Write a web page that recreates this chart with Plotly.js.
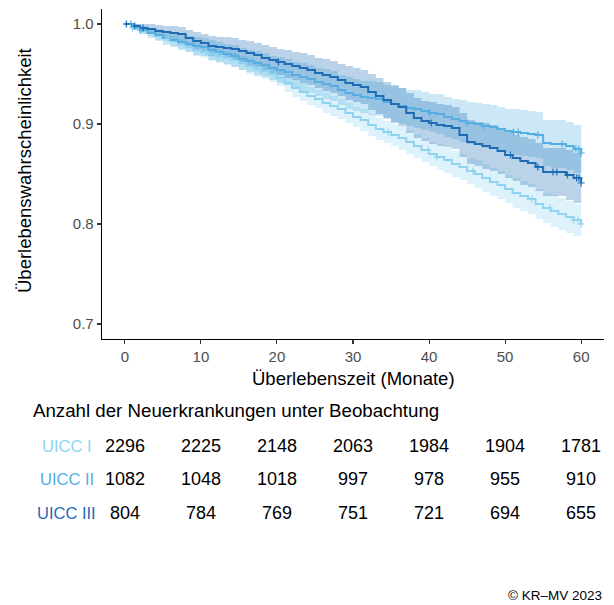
<!DOCTYPE html>
<html><head><meta charset="utf-8">
<script src="https://cdn.plot.ly/plotly-3.0.1.min.js"></script>
<style>html,body{margin:0;padding:0;background:#fff}#chart{width:614px;height:605px}</style>
</head><body><div id="chart"></div>
<script>
// ---- data ----
const groupNames = ['UICC I', 'UICC II', 'UICC III'];

// months 0..60 (one value per month)
const months = [0,1,2,3,4,5,6,7,8,9,10,11,12,13,14,15,16,17,18,19,20,21,22,23,24,25,26,27,28,29,30,31,32,33,34,35,36,37,38,39,40,41,42,43,44,45,46,47,48,49,50,51,52,53,54,55,56,57,58,59,60];

const survI  = [1.000,0.996,0.993,0.991,0.988,0.986,0.983,0.980,0.977,0.974,0.972,0.970,0.968,0.966,0.964,0.961,0.958,0.955,0.953,0.950,0.946,0.941,0.936,0.932,0.928,0.925,0.921,0.918,0.915,0.911,0.907,0.904,0.899,0.895,0.892,0.889,0.886,0.882,0.878,0.874,0.870,0.867,0.864,0.860,0.857,0.853,0.850,0.846,0.842,0.839,0.835,0.831,0.828,0.825,0.820,0.816,0.813,0.810,0.807,0.804,0.800];
const upperI = [1.000,0.998,0.996,0.994,0.992,0.990,0.988,0.985,0.982,0.980,0.978,0.977,0.975,0.973,0.971,0.968,0.966,0.963,0.961,0.958,0.954,0.950,0.945,0.941,0.937,0.934,0.931,0.928,0.925,0.921,0.917,0.915,0.910,0.906,0.903,0.900,0.898,0.894,0.890,0.886,0.882,0.880,0.877,0.873,0.870,0.866,0.864,0.860,0.856,0.853,0.849,0.846,0.843,0.840,0.835,0.831,0.829,0.826,0.823,0.820,0.816];
const lowerI = [1.000,0.994,0.990,0.988,0.984,0.982,0.978,0.975,0.972,0.968,0.966,0.963,0.961,0.959,0.957,0.954,0.950,0.947,0.945,0.942,0.938,0.932,0.927,0.923,0.919,0.916,0.911,0.908,0.905,0.901,0.897,0.893,0.888,0.884,0.881,0.878,0.874,0.870,0.866,0.862,0.858,0.854,0.851,0.847,0.844,0.840,0.836,0.832,0.828,0.825,0.821,0.816,0.813,0.810,0.805,0.801,0.797,0.794,0.791,0.788,0.784];
const censorI = [1.0, 5.7, 10.7, 12.2, 18.0, 34.6, 39.9, 41.0, 45.8, 53.5, 55.9, 59.0, 59.6, 60];

const survII  = [1.000,0.997,0.994,0.991,0.989,0.986,0.984,0.982,0.980,0.978,0.977,0.974,0.972,0.970,0.968,0.965,0.963,0.961,0.959,0.956,0.954,0.952,0.949,0.947,0.945,0.942,0.940,0.938,0.934,0.931,0.929,0.927,0.926,0.925,0.922,0.920,0.918,0.916,0.915,0.913,0.911,0.910,0.907,0.905,0.903,0.901,0.900,0.898,0.897,0.895,0.893,0.892,0.891,0.890,0.889,0.881,0.880,0.880,0.878,0.875,0.871];
const upperII = [1.000,1.000,0.998,0.996,0.995,0.993,0.991,0.990,0.988,0.987,0.986,0.984,0.982,0.980,0.979,0.976,0.974,0.973,0.971,0.968,0.967,0.965,0.962,0.961,0.959,0.956,0.955,0.953,0.949,0.947,0.945,0.943,0.943,0.942,0.939,0.938,0.936,0.934,0.934,0.932,0.930,0.930,0.927,0.925,0.924,0.922,0.921,0.920,0.919,0.917,0.915,0.915,0.914,0.913,0.912,0.904,0.904,0.904,0.902,0.899,0.895];
const lowerII = [1.000,0.994,0.990,0.986,0.983,0.979,0.977,0.974,0.972,0.969,0.968,0.964,0.962,0.960,0.957,0.954,0.952,0.949,0.947,0.944,0.941,0.939,0.936,0.933,0.931,0.928,0.925,0.923,0.919,0.915,0.913,0.911,0.909,0.908,0.905,0.902,0.900,0.898,0.896,0.894,0.892,0.890,0.887,0.885,0.882,0.880,0.879,0.876,0.875,0.873,0.871,0.869,0.868,0.867,0.866,0.858,0.856,0.856,0.854,0.851,0.847];
const censorII = [0.8, 2.0, 14.5, 40.1, 45.0, 47.1, 51.1, 51.7, 54.3, 57.5, 59.3, 59.7, 60];

const survIII  = [1.000,0.998,0.996,0.995,0.993,0.992,0.991,0.990,0.986,0.983,0.981,0.978,0.977,0.976,0.975,0.973,0.971,0.969,0.966,0.964,0.962,0.960,0.958,0.956,0.954,0.951,0.949,0.947,0.944,0.941,0.939,0.937,0.932,0.928,0.924,0.920,0.917,0.911,0.906,0.903,0.901,0.899,0.898,0.896,0.889,0.882,0.880,0.878,0.876,0.873,0.869,0.866,0.863,0.861,0.857,0.852,0.852,0.852,0.849,0.846,0.841];
const upperIII = [1.000,1.000,1.000,1.000,0.999,0.998,0.998,0.997,0.994,0.992,0.990,0.988,0.987,0.987,0.986,0.984,0.983,0.981,0.979,0.977,0.975,0.974,0.972,0.971,0.969,0.966,0.965,0.963,0.960,0.958,0.956,0.954,0.950,0.946,0.942,0.939,0.936,0.931,0.926,0.923,0.922,0.920,0.919,0.917,0.911,0.904,0.902,0.901,0.899,0.896,0.892,0.889,0.887,0.885,0.881,0.876,0.876,0.876,0.874,0.871,0.866];
const lowerIII = [1.000,0.995,0.992,0.990,0.987,0.986,0.984,0.983,0.978,0.974,0.972,0.968,0.967,0.965,0.964,0.962,0.959,0.957,0.953,0.951,0.949,0.946,0.944,0.941,0.939,0.936,0.933,0.931,0.928,0.924,0.922,0.920,0.914,0.910,0.906,0.901,0.898,0.891,0.886,0.883,0.880,0.878,0.877,0.875,0.867,0.860,0.858,0.855,0.853,0.850,0.846,0.843,0.839,0.837,0.833,0.828,0.828,0.828,0.824,0.821,0.816];
const censorIII = [0.2, 1.3, 2.4, 20.2, 40.3, 50.7, 54.3, 56.3, 56.8, 58.2, 59.4, 59.7, 60];

const riskTimes = [0, 10, 20, 30, 40, 50, 60];
const riskI   = [2296, 2225, 2148, 2063, 1984, 1904, 1781];
const riskII  = [1082, 1048, 1018, 997, 978, 955, 910];
const riskIII = [804, 784, 769, 751, 721, 694, 655];

const xTicks = [0, 10, 20, 30, 40, 50, 60];
const yTicks = [0.7, 0.8, 0.9, 1.0];
const yTickText = ['0.7', '0.8', '0.9', '1.0'];

// ---- styles ----
const lineColors = ['rgb(142,211,240)', 'rgb(86,174,226)', 'rgb(31,108,180)'];
const bandColors = ['rgba(142,211,240,0.3)', 'rgba(86,174,226,0.3)', 'rgba(31,108,180,0.3)'];
const FONT = 'Liberation Sans, Arial, sans-serif';

const G = [
  {t: months, s: survI, u: upperI, l: lowerI, c: censorI, n: riskI},
  {t: months, s: survII, u: upperII, l: lowerII, c: censorII, n: riskII},
  {t: months, s: survIII, u: upperIII, l: lowerIII, c: censorIII, n: riskIII}
];

function stepAt(times, vals, x) {
  let v = vals[0];
  for (let i = 0; i < times.length; i++) { if (times[i] <= x) v = vals[i]; }
  return v;
}

const traces = [];
G.forEach((g, i) => {
  traces.push({x: g.t, y: g.l, type: 'scatter', mode: 'lines', line: {width: 0, shape: 'hv'}, hoverinfo: 'skip', showlegend: false});
  traces.push({x: g.t, y: g.u, type: 'scatter', mode: 'lines', line: {width: 0, shape: 'hv'}, fill: 'tonexty', fillcolor: bandColors[i], hoverinfo: 'skip', showlegend: false});
});
G.forEach((g, i) => {
  traces.push({x: g.t, y: g.s, type: 'scatter', mode: 'lines', name: groupNames[i], line: {color: lineColors[i], width: 2, shape: 'hv'}, showlegend: false});
});
G.forEach((g, i) => {
  traces.push({x: g.c, y: g.c.map(x => stepAt(g.t, g.s, x)), type: 'scatter', mode: 'markers',
    marker: {symbol: 'cross-thin', size: 5, line: {color: lineColors[i], width: 1.2}, color: lineColors[i]}, hoverinfo: 'skip', showlegend: false});
});

// ---- annotations (risk table etc.) ----
const L = 102, R = 604, T = 9, B = 339;
const px2py = y => (B - y) / (B - T);
const px2px = x => (x - L) / (R - L);
const annotations = [];
annotations.push({text: 'Überlebenszeit (Monate)', xref: 'paper', yref: 'paper', x: 0.5, y: px2py(378), xanchor: 'center', yanchor: 'middle', showarrow: false, font: {family: FONT, size: 18.5, color: '#000'}});
annotations.push({text: 'Überlebenswahrscheinlichkeit', xref: 'paper', yref: 'paper', x: px2px(24), y: px2py(171), textangle: -90, xanchor: 'center', yanchor: 'middle', showarrow: false, font: {family: FONT, size: 18.5, color: '#000'}});
annotations.push({text: 'Anzahl der Neuerkrankungen unter Beobachtung', xref: 'paper', yref: 'paper', x: px2px(31), y: px2py(410), xanchor: 'left', yanchor: 'middle', showarrow: false, font: {family: FONT, size: 18.7, color: '#000'}});
const rowY = [446, 479, 513];
G.forEach((g, i) => {
  annotations.push({text: groupNames[i], xref: 'paper', yref: 'paper', x: px2px(66.5), y: px2py(rowY[i]), xanchor: 'center', yanchor: 'middle', showarrow: false, font: {family: FONT, size: 16.5, color: lineColors[i]}});
  riskTimes.forEach((t, j) => {
    annotations.push({text: String(g.n[j]), xref: 'x', yref: 'paper', x: t, y: px2py(rowY[i]), xanchor: 'center', yanchor: 'middle', showarrow: false, font: {family: FONT, size: 18, color: '#000'}});
  });
});
annotations.push({text: '© KR–MV 2023', xref: 'paper', yref: 'paper', x: px2px(604), y: px2py(595), xanchor: 'right', yanchor: 'middle', showarrow: false, font: {family: FONT, size: 13.5, color: '#000'}});

const layout = {
  width: 614, height: 605,
  margin: {l: L, r: 614 - R, t: T, b: 605 - B},
  paper_bgcolor: '#fff', plot_bgcolor: '#fff',
  font: {family: FONT},
  showlegend: false,
  xaxis: {range: [-3, 63], tickvals: xTicks, ticktext: xTicks.map(String), showgrid: false, zeroline: false,
    showline: true, linecolor: '#000', linewidth: 1.3, ticks: 'outside', ticklen: 4, tickwidth: 1.1, tickcolor: '#333',
    tickfont: {family: FONT, size: 15, color: '#4D4D4D'}},
  yaxis: {range: [0.685, 1.015], tickvals: yTicks, ticktext: yTickText, showgrid: false, zeroline: false,
    showline: true, linecolor: '#000', linewidth: 1.3, ticks: 'outside', ticklen: 4, tickwidth: 1.1, tickcolor: '#333',
    tickfont: {family: FONT, size: 15, color: '#4D4D4D'}},
  annotations: annotations
};

Plotly.newPlot('chart', traces, layout, {displayModeBar: false, staticPlot: true});
</script>
</body></html>
